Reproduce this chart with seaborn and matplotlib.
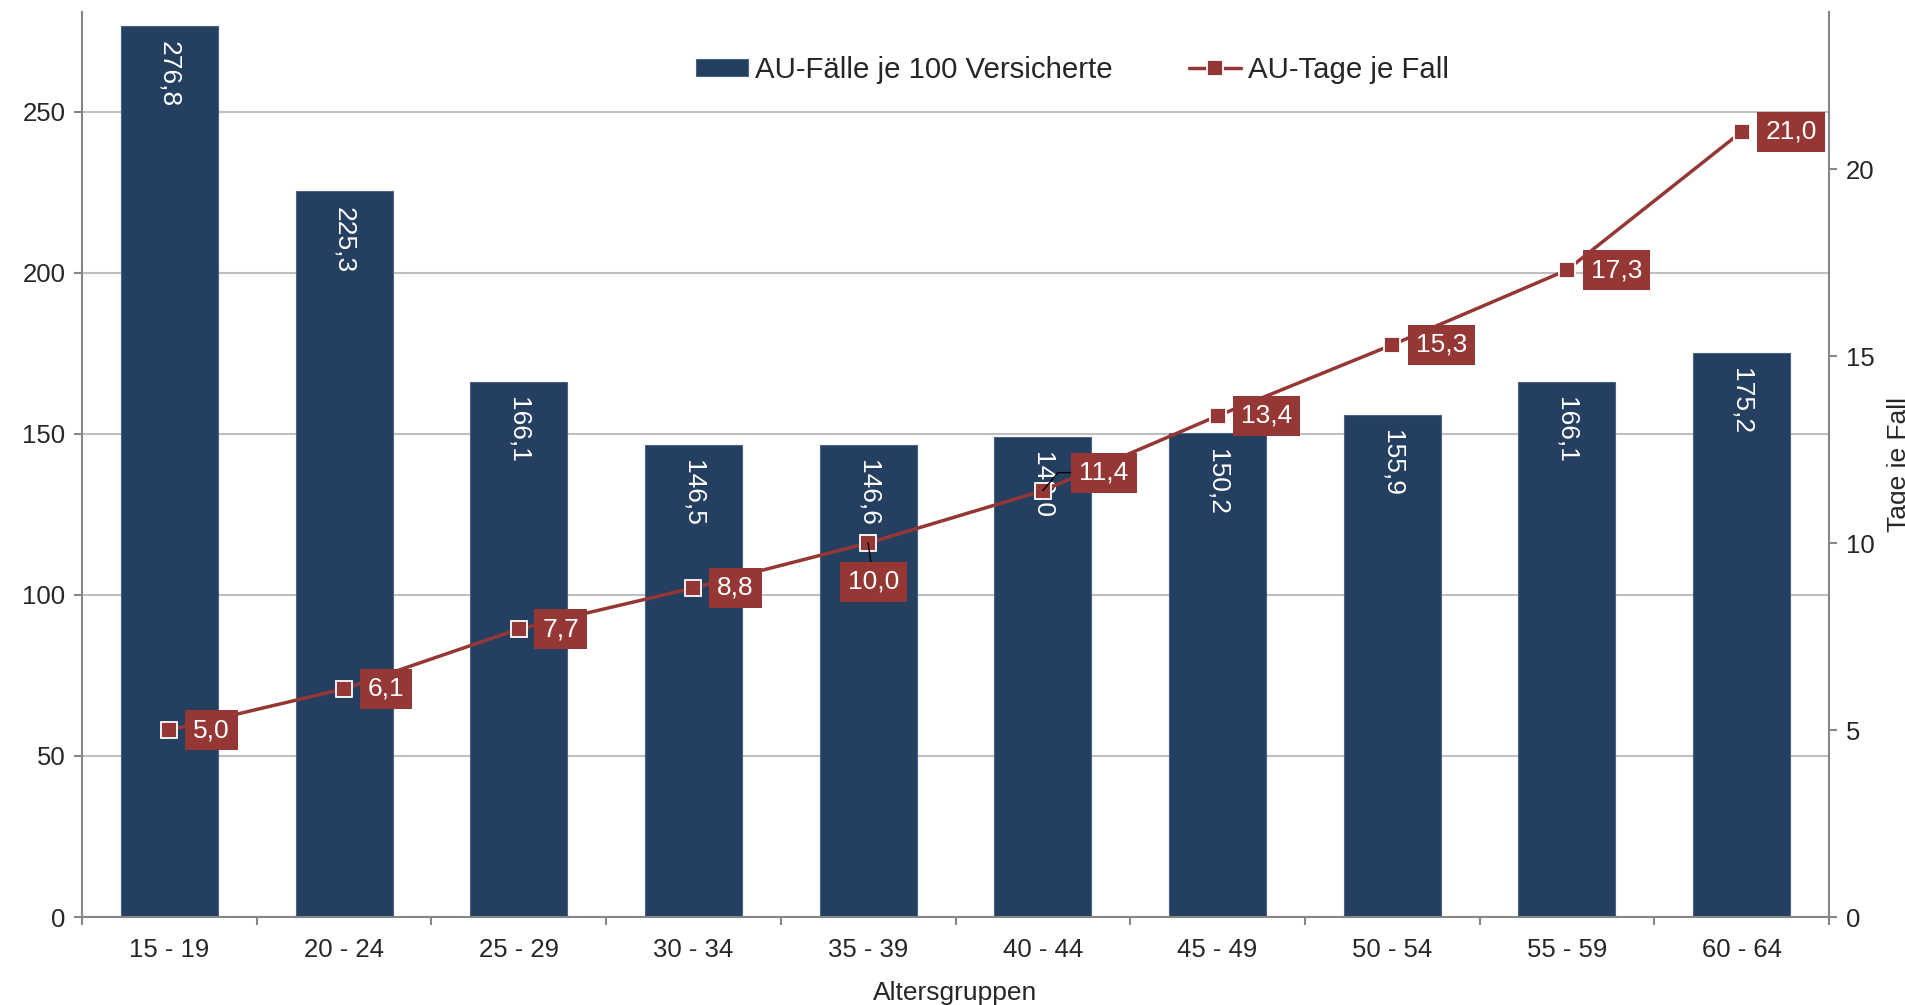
import numpy as np
import matplotlib.pyplot as plt
import seaborn as sns

# data
groups = ["15 - 19", "20 - 24", "25 - 29", "30 - 34", "35 - 39",
          "40 - 44", "45 - 49", "50 - 54", "55 - 59", "60 - 64"]
faelle = [276.8, 225.3, 166.1, 146.5, 146.6, 149.0, 150.2, 155.9, 166.1, 175.2]
tage = [5.0, 6.1, 7.7, 8.8, 10.0, 11.4, 13.4, 15.3, 17.3, 21.0]

navy = "#243F60"
red = "#953735"
grey = "#868686"

sns.set_style("white")
plt.rcParams['font.family'] = ['Liberation Sans', 'DejaVu Sans']

fig = plt.figure(figsize=(19.05, 10.05), dpi=100)
ax = fig.add_axes([82 / 1905, 88 / 1005, 1747 / 1905, 905 / 1005])
ax.set_axisbelow(True)

# bars
sns.barplot(x=groups, y=faelle, color=navy, saturation=1, width=0.555,
            edgecolor="#4A6283", linewidth=0.8, ax=ax,
            label="AU-Fälle je 100 Versicherte")
ax.set_xlim(-0.5, 9.5)
ax.set_ylim(0, 281)
ax.set_yticks([0, 50, 100, 150, 200, 250])
ax.yaxis.grid(True, color="#BFBFBF", lw=1.5)
ax.xaxis.grid(False)
ax.set_xlabel("Altersgruppen", fontsize=19, labelpad=14)
ax.set_ylabel("")

for i, v in enumerate(faelle):
    ax.annotate(f"{v:.1f}".replace(".", ","), (i, v), xytext=(0, -11),
                textcoords="offset points", rotation=270, ha="center", va="top",
                color="white", fontsize=19)

# line on second axis
ax2 = ax.twinx()
sns.lineplot(x=np.arange(len(groups)), y=tage, color=red, lw=2.5, marker="s",
             markersize=11.5, markeredgecolor="white", markeredgewidth=1.3,
             ax=ax2, label="AU-Tage je Fall", legend=False)
ax2.set_ylim(0, 24.2)
ax2.set_yticks([0, 5, 10, 15, 20])
ax2.grid(False)
ax2.set_ylabel("Tage je Fall", fontsize=19)
ax2.yaxis.set_label_coords(1.033, 0.5)

box = dict(boxstyle="square,pad=0.3", fc=red, ec="none")
for i, v in enumerate(tage):
    txt = f"{v:.1f}".replace(".", ",")
    if i == 4:
        ax2.annotate(txt, (i, v), xytext=(4, -28), textcoords="offset points",
                     ha="center", va="center", color="white", fontsize=19,
                     bbox=box, arrowprops=dict(arrowstyle="-", color="black", lw=1,
                                               shrinkA=0, shrinkB=0))
    elif i == 5:
        ax2.annotate(txt, (i, v), xytext=(44, 13), textcoords="offset points",
                     ha="center", va="center", color="white", fontsize=19,
                     bbox=box, arrowprops=dict(arrowstyle="-", color="black", lw=1,
                                               shrinkA=0, shrinkB=0,
                                               connectionstyle="angle,angleA=180,angleB=50,rad=0"))
    else:
        ax2.annotate(txt, (i, v), xytext=(17, 0), textcoords="offset points",
                     ha="left", va="center", color="white", fontsize=19, bbox=box)

# axes styling
for a in (ax, ax2):
    for s in ("left", "right", "bottom"):
        a.spines[s].set_color(grey)
        a.spines[s].set_linewidth(1.5)
    a.spines["top"].set_visible(False)
ax.spines["right"].set_visible(False)
ax2.spines["left"].set_visible(False)
ax2.spines["bottom"].set_visible(False)

ax.tick_params(axis="y", which="major", direction="out", length=6, width=1.5,
               color=grey, labelsize=18.5, pad=6, left=True)
ax2.tick_params(axis="y", which="major", direction="out", length=6, width=1.5,
                color=grey, labelsize=18.5, pad=6, right=True)
ax.set_xticks(np.arange(len(groups)))
ax.set_xticklabels(groups)
ax.set_xticks(np.arange(-0.5, len(groups)), minor=True)
ax.tick_params(axis="x", which="major", length=0, labelsize=18.5, pad=15)
ax.tick_params(axis="x", which="minor", direction="out", length=6, width=1.5,
               color=grey, bottom=True)

# legend
h1, l1 = ax.get_legend_handles_labels()
h2, l2 = ax2.get_legend_handles_labels()
ax.legend(h1 + h2, l1 + l2, loc="center", bbox_to_anchor=(0.567, 0.936), ncol=2,
          frameon=False, fontsize=21.2, handlelength=1.75, handleheight=0.5,
          handletextpad=0.25, columnspacing=2.6)

fig.savefig("out.png", dpi=100, facecolor="white")
